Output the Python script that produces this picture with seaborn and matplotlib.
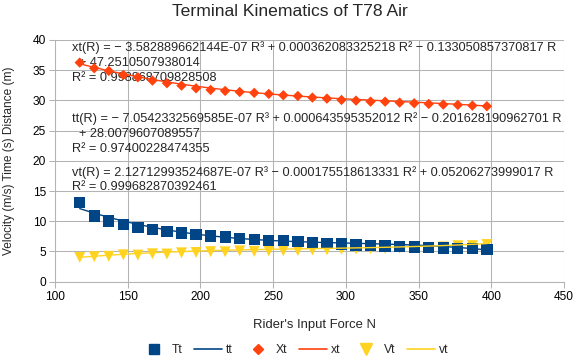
import numpy as np
import pandas as pd
import seaborn as sns
import matplotlib
matplotlib.use("Agg")
import matplotlib.pyplot as plt
from matplotlib.lines import Line2D

# rider input force (N)
force = [117, 127, 137, 147, 157, 167, 177, 187, 197, 207, 217, 227, 237, 247, 257,
         267, 277, 287, 297, 307, 317, 327, 337, 347, 357, 367, 377, 387, 397]
# terminal time (s)
tt_vals = [13.10, 10.88, 10.05, 9.44, 9.01, 8.68, 8.34, 8.06, 7.85, 7.57, 7.40, 7.18, 7.02, 6.85, 6.76,
           6.62, 6.46, 6.36, 6.26, 6.08, 5.96, 5.91, 5.86, 5.74, 5.70, 5.58, 5.53, 5.53, 5.36]
# terminal distance (m)
xt_vals = [36.26, 35.33, 34.88, 34.22, 33.83, 33.28, 32.85, 32.45, 32.01, 31.74, 31.57, 31.40, 31.25, 31.08, 30.86,
           30.74, 30.47, 30.30, 30.08, 29.97, 29.80, 29.80, 29.64, 29.53, 29.42, 29.31, 29.25, 29.14, 29.04]
# terminal velocity (m/s)
vt_vals = [4.02, 4.15, 4.20, 4.45, 4.40, 4.62, 4.58, 4.78, 4.84, 4.97, 4.95, 5.10, 5.02, 5.10, 5.12,
           5.15, 5.25, 5.28, 5.36, 5.40, 5.45, 5.50, 5.55, 5.60, 5.65, 5.75, 5.95, 5.97, 6.15]

# trendline coefficients as printed on the chart (R^3, R^2, R, const)
xt_coef = [-3.582889662144E-07, 0.000362083325218, -0.133050857370817, 47.2510507938014]
tt_coef = [-7.0542332569585E-07, 0.000643595352012, -0.201628190962701, 28.0079607089557]
vt_coef = [2.12712993524687E-07, -0.000175518613331, 0.05206273999017, 0.0]

eq_lines = [
    ("xt(R) = \u2212 3.582889662144E-07 R\u00b3 + 0.000362083325218 R\u00b2 \u2212 0.133050857370817 R", 48),
    ("  + 47.2510507938014", 63),
    ("R\u00b2 = 0.998868709828508", 78),
    ("tt(R) = \u2212 7.0542332569585E-07 R\u00b3 + 0.000643595352012 R\u00b2 \u2212 0.201628190962701 R", 119),
    ("  + 28.0079607089557", 134),
    ("R\u00b2 = 0.97400228474355", 149),
    ("vt(R) = 2.12712993524687E-07 R\u00b3 \u2212 0.000175518613331 R\u00b2 + 0.05206273999017 R", 173),
    ("R\u00b2 = 0.999682870392461", 187),
]

c_t = "#004586"
c_x = "#ff420e"
c_v = "#ffd320"
grid_c = "#b3b3b3"

sns.set_style("whitegrid")
plt.rcParams['font.family'] = ['Liberation Sans', 'DejaVu Sans']

W, H = 578, 364
fig = plt.figure(figsize=(W / 100, H / 100), dpi=100)
ax = fig.add_axes([55 / W, 1 - 281.7 / H, (564 - 55) / W, (281.7 - 40) / H])

df = pd.DataFrame({"force": force, "Tt": tt_vals, "Xt": xt_vals, "Vt": vt_vals})
df["tt"] = np.polyval(tt_coef, df["force"])
df["xt"] = np.polyval(xt_coef, df["force"])
df["vt"] = np.polyval(vt_coef, df["force"])

sns.scatterplot(data=df, x="force", y="Vt", marker="v", s=62, color=c_v, edgecolor="none", ax=ax, zorder=3)
sns.scatterplot(data=df, x="force", y="Xt", marker="D", s=28, color=c_x, edgecolor="none", ax=ax, zorder=3)
sns.scatterplot(data=df, x="force", y="Tt", marker="s", s=66, color=c_t, edgecolor="none", ax=ax, zorder=4)
sns.lineplot(data=df, x="force", y="tt", color=c_t, linewidth=1.0, ax=ax, zorder=5)
sns.lineplot(data=df, x="force", y="xt", color=c_x, linewidth=1.0, ax=ax, zorder=5)
sns.lineplot(data=df, x="force", y="vt", color=c_v, linewidth=1.0, ax=ax, zorder=5)

ax.set_xlim(100, 450)
ax.set_ylim(0, 40)
ax.set_xticks(range(100, 451, 50))
ax.set_yticks(range(0, 41, 5))
ax.set_xlabel("")
ax.set_ylabel("")
ax.grid(True, color=grid_c, linewidth=0.75)
ax.tick_params(axis="both", labelsize=8.6, length=4, width=0.75, color=grid_c, pad=2.5, labelcolor="black")
ax.tick_params(left=True, bottom=True)
for side in ["top", "right"]:
    ax.spines[side].set_visible(False)
for side in ["left", "bottom"]:
    ax.spines[side].set_color(grid_c)
    ax.spines[side].set_linewidth(0.75)

for txt, ypx in eq_lines:
    ax.text(72 / W, 1 - ypx / H, txt, transform=fig.transFigure, fontsize=9.2,
            va="center", ha="left", zorder=2)

fig.text(290 / W, 1 - 12 / H, "Terminal Kinematics of T78 Air", fontsize=12.6, ha="center", va="center")
fig.text(314 / W, 1 - 325 / H, "Rider's Input Force N", fontsize=9.4, ha="center", va="center")
fig.text(9 / W, 1 - 161 / H, "Velocity (m/s) Time (s) Distance (m)", fontsize=8.6,
         ha="center", va="center", rotation=90)

handles = [
    Line2D([], [], linestyle="none", marker="s", markersize=7, color=c_t),
    Line2D([], [], color=c_t, linewidth=1.2),
    Line2D([], [], linestyle="none", marker="D", markersize=5, color=c_x),
    Line2D([], [], color=c_x, linewidth=1.2),
    Line2D([], [], linestyle="none", marker="v", markersize=8, color=c_v),
    Line2D([], [], color=c_v, linewidth=1.2),
]
labels = ["Tt", "tt", "Xt", "xt", "Vt", "vt"]
fig.legend(handles, labels, loc="center", bbox_to_anchor=(294 / W, 1 - 350 / H), ncol=6,
           frameon=False, fontsize=8.8, handlelength=2.3, handletextpad=0.3, columnspacing=0.95)

fig.savefig("out.png", dpi=100)
